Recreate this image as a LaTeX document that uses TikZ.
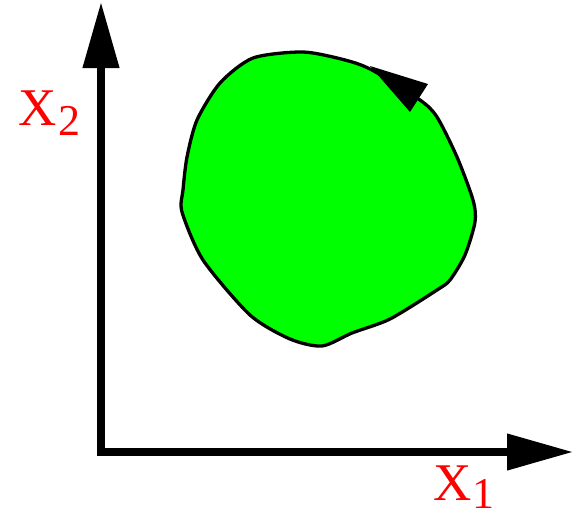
\documentclass[tikz,border=0pt]{standalone}
\usepackage{fontspec}
\setmainfont{Liberation Serif}
\usetikzlibrary{arrows.meta}
\begin{document}
\begin{tikzpicture}[x=1pt,y=-1pt,
  axis/.style={line width=7.5pt,line join=miter,{Triangle[length=66pt,width=35pt]}-{Triangle[length=66pt,width=35pt]}},
  blob/.style={draw=black,line width=3.3pt,fill={rgb,255:red,0;green,255;blue,0}},
  lbl/.style={text=red,inner sep=0pt,anchor=base west,font=\fontsize{53}{53}\selectfont}]
\useasboundingbox (0,0) rectangle (579,515);
\coordinate (ytip) at (101,2);
\coordinate (origin) at (101,452);
\coordinate (xtip) at (573,452);
\draw[axis] (ytip) -- (origin) -- (xtip);
\draw[blob] plot[smooth cycle,tension=0.45] coordinates {
 (253,58) (303,52) (345,60) (372,70) (420,100) (437,117) (457,157) (473,200)
 (475,222) (465,255) (450,280) (437,290) (390,319) (352,333) (322,346)
 (290,339) (250,315) (203,260) (182,212) (183,190) (187,157) (197,120) (220,83)};
\coordinate (ha) at (370,66);
\coordinate (hb) at (428,84);
\coordinate (hc) at (410,112);
\fill[black] (ha) -- (hb) -- (hc) -- cycle;
\node[lbl] (x2) at (18,125) {X\kern2pt\raisebox{-10pt}{\fontsize{44}{44}\selectfont 2}};
\node[lbl] (x1) at (433,500) {X\kern1pt\raisebox{-8pt}{\fontsize{44}{44}\selectfont 1}};
\end{tikzpicture}
\end{document}
